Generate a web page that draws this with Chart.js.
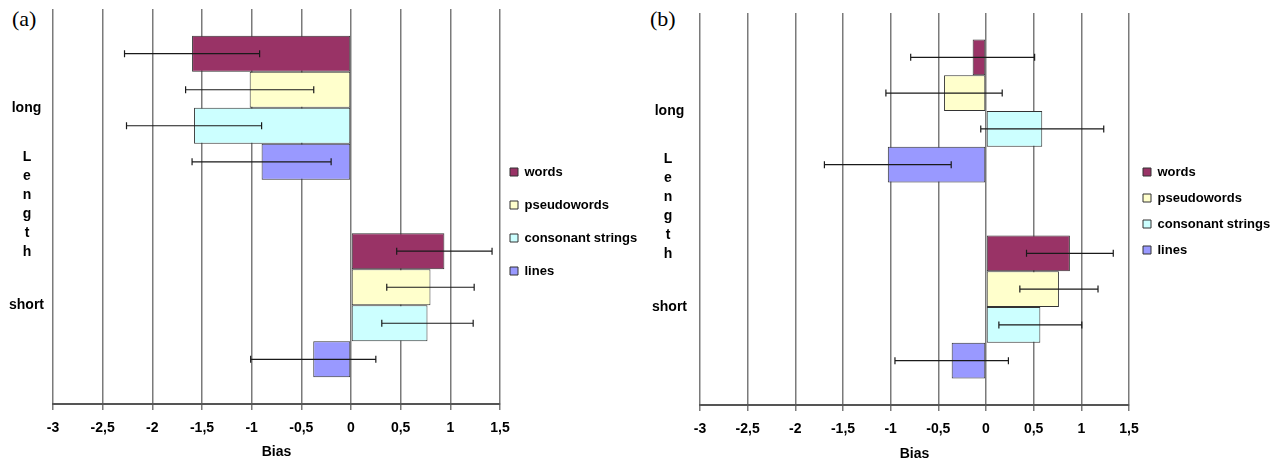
<!DOCTYPE html>
<html>
<head>
<meta charset="utf-8">
<script src="https://cdn.jsdelivr.net/npm/chart.js@4.4.0/dist/chart.umd.min.js"></script>
<style>
html, body { margin: 0; padding: 0; background: #fff; }
body { width: 1273px; height: 467px; position: relative; overflow: hidden; }
.panel { position: absolute; top: 0; height: 467px; }
.tag { position: absolute; font-family: "Liberation Serif", "Times New Roman", serif; font-size: 22px; line-height: 22px; color: #000; }
</style>
</head>
<body>
<div class="tag" style="left:12px;top:8px">(a)</div>
<div class="tag" style="left:650px;top:8px">(b)</div>
<div class="panel" style="left:0;width:650px"><canvas id="chartA"></canvas></div>
<div class="panel" style="left:637px;width:636px"><canvas id="chartB"></canvas></div>
<script>
const categories = ['long', 'short']
const seriesNames = ['words', 'pseudowords', 'consonant strings', 'lines']
const seriesColors = ['#993366', '#FFFFCC', '#CCFFFF', '#9999FF']
const yTitle = 'Length'
const xTitle = 'Bias'

// panel (a): mean bias per length
const wordsA = [-1.6, 0.94]
const pseudowordsA = [-1.02, 0.80]
const consonantA = [-1.58, 0.77]
const linesA = [-0.9, -0.38]
// panel (a): error bar half-widths
const wordsErrA = [0.68, 0.48]
const pseudowordsErrA = [0.645, 0.44]
const consonantErrA = [0.68, 0.46]
const linesErrA = [0.70, 0.63]

// panel (b)
const wordsB = [-0.14, 0.88]
const pseudowordsB = [-0.44, 0.765]
const consonantB = [0.59, 0.57]
const linesB = [-1.03, -0.36]
const wordsErrB = [0.65, 0.455]
const pseudowordsErrB = [0.61, 0.41]
const consonantErrB = [0.645, 0.435]
const linesErrB = [0.665, 0.595]

const FONT = '"Liberation Sans", Arial, sans-serif'
Chart.defaults.font.family = FONT
Chart.defaults.color = '#000'

const errorBarPlugin = {
	id: 'errorBars',
	afterDatasetsDraw(chart) {
		const ctx = chart.ctx
		const xs = chart.scales.x
		ctx.save()
		ctx.strokeStyle = '#1a1a1a'
		ctx.lineWidth = 1.2
		chart.data.datasets.forEach((ds, i) => {
			chart.getDatasetMeta(i).data.forEach((bar, j) => {
				const v = ds.data[j]
				const e = ds.errors[j]
				const x1 = xs.getPixelForValue(v - e)
				const x2 = xs.getPixelForValue(v + e)
				const y = bar.y
				ctx.beginPath()
				ctx.moveTo(x1, y)
				ctx.lineTo(x2, y)
				ctx.moveTo(x1, y - 3.5)
				ctx.lineTo(x1, y + 3.5)
				ctx.moveTo(x2, y - 3.5)
				ctx.lineTo(x2, y + 3.5)
				ctx.stroke()
			})
		})
		ctx.restore()
	}
}

// stacked letters for the category axis title
const lengthTitlePlugin = {
	id: 'lengthTitle',
	afterDraw(chart, args, opts) {
		const ctx = chart.ctx
		const area = chart.chartArea
		const letters = yTitle.split('')
		const mid = (area.top + area.bottom) / 2 - 2
		ctx.save()
		ctx.font = 'bold 14px ' + FONT
		ctx.fillStyle = '#000'
		ctx.textAlign = 'center'
		ctx.textBaseline = 'middle'
		letters.forEach((ch, k) => {
			ctx.fillText(ch, opts.x, mid + (k - (letters.length - 1) / 2) * 19)
		})
		ctx.restore()
	}
}

// move the legend next to the plot like in the original figure
const legendPlacePlugin = {
	id: 'legendPlace',
	afterLayout(chart, args, opts) {
		const lg = chart.legend
		const pad = lg.options.labels.padding
		lg.left = chart.chartArea.right + opts.gap - pad
		lg.right = lg.left + 200
		lg.top = opts.firstY - 6.5 - pad
		lg.bottom = lg.top + 440
	}
}

function makeChart(id, values, errors, cfg) {
	const ctx = document.getElementById(id)
	return new Chart(ctx, {
		type: 'bar',
		data: {
			labels: categories,
			datasets: seriesNames.map((name, i) => ({
				label: name,
				data: values[i],
				errors: errors[i],
				backgroundColor: seriesColors[i],
				borderColor: '#333',
				borderWidth: 1,
				borderSkipped: false,
				barPercentage: 1,
				categoryPercentage: 0.73
			}))
		},
		options: {
			indexAxis: 'y',
			responsive: true,
			maintainAspectRatio: false,
			animation: false,
			layout: { padding: { top: cfg.top, right: cfg.right, bottom: 0, left: 0 } },
			scales: {
				x: {
					min: -3,
					max: 1.5,
					ticks: {
						stepSize: 0.5,
						color: '#000',
						font: { size: 14, weight: 'bold' },
						padding: 10,
						maxRotation: 0,
						autoSkip: false,
						callback: v => String(v).replace('.', ',')
					},
					grid: { color: '#7a7a7a', lineWidth: 1.5, tickLength: 6 },
					border: { display: true, color: '#555', width: 2 },
					title: {
						display: true,
						text: xTitle,
						color: '#000',
						font: { size: 14, weight: 'bold' },
						padding: { top: 0, bottom: cfg.titlePad }
					},
					afterFit: s => { s.height = cfg.xHeight }
				},
				y: {
					ticks: { color: '#000', font: { size: 14, weight: 'bold' }, padding: cfg.tickPad, crossAlign: 'center' },
					grid: { display: false, drawTicks: false },
					border: { display: false },
					afterFit: s => {
						s.width = cfg.yWidth
						s.paddingTop = 0
						s.paddingBottom = 0
					}
				}
			},
			plugins: {
				legend: {
					position: 'right',
					align: 'start',
					maxWidth: 130,
					labels: {
						boxWidth: 8,
						boxHeight: 8,
						padding: cfg.legendPad,
						color: '#000',
						font: { size: 13, weight: 'bold' }
					}
				},
				tooltip: { enabled: false },
				lengthTitle: { x: cfg.letterX },
				legendPlace: { gap: cfg.legendGap, firstY: 172 }
			}
		},
		plugins: [errorBarPlugin, lengthTitlePlugin, legendPlacePlugin]
	})
}

makeChart('chartA',
	[wordsA, pseudowordsA, consonantA, linesA],
	[wordsErrA, pseudowordsErrA, consonantErrA, linesErrA],
	{ top: 9, right: 20, xHeight: 63, titlePad: 6, yWidth: 53, tickPad: 9, letterX: 27, legendPad: 20, legendGap: 10 })

makeChart('chartB',
	[wordsB, pseudowordsB, consonantB, linesB],
	[wordsErrB, pseudowordsErrB, consonantErrB, linesErrB],
	{ top: 13, right: 14, xHeight: 62, titlePad: 4, yWidth: 63, tickPad: 13, letterX: 31, legendPad: 13, legendGap: 14 })
</script>
</body>
</html>
